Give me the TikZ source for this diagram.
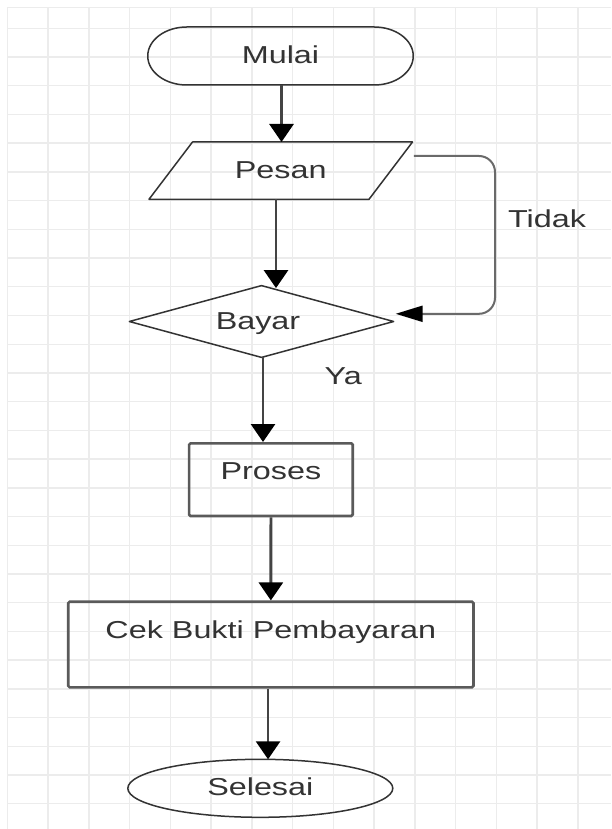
\documentclass[tikz,border=0pt]{standalone}
\usepackage{fontspec}
\setmainfont{Liberation Sans}
\usetikzlibrary{arrows.meta,shapes.geometric}
\definecolor{gridc}{HTML}{ECECEC}
\definecolor{ink}{HTML}{333333}
\definecolor{conn}{HTML}{444444}
\definecolor{boxc}{HTML}{5A5A5A}
\definecolor{loopc}{HTML}{6A6A6A}
\newcommand{\wide}[1]{\scalebox{1.32}[1]{#1}}
\begin{document}
\begin{tikzpicture}[x=1pt,y=-1pt,
  gridline/.style={draw=gridc, line width=1.4pt},
  lbl/.style={font=\fontsize{24.5}{29}\selectfont, text=ink, inner sep=0pt},
  txt/.style={lbl, anchor=base},
  shp/.style={lbl, draw=none, inner sep=0pt, outer sep=0pt},
  thinline/.style={draw=ink, line width=1.5pt, line join=round},
  boxline/.style={lbl, draw=boxc, line width=2.6pt, rounded corners=1.5pt, inner sep=0pt},
  arr/.style={draw=conn, line width=2.8pt, -{Triangle[width=24pt,length=18pt,color=black]}},
  looparr/.style={draw=loopc, line width=2pt, rounded corners=16pt, -{Triangle[width=16pt,length=27pt,color=black]}},
]
\useasboundingbox (0,0) rectangle (611,829);
\fill[white] (0,0) rectangle (611,829);
% grid
\foreach \i in {0,...,14} \draw[gridline] ({7.3+40.75*\i},7.3) -- ({7.3+40.75*\i},829);
\foreach \j in {0,...,27} \draw[gridline] (7.3,{28.3+28.72*\j}) -- (611,{28.3+28.72*\j});
\draw[gridline] (7.3,7.3) -- (611,7.3);

% Mulai (terminal)
\node[shp, minimum width=265.5pt, minimum height=58pt, text height=16pt, text depth=0pt] (m) at (280.5,56) {\wide{Mulai}};
\draw[thinline] ([xshift=39pt]m.north west) -- ([xshift=-39pt]m.north east)
  arc[start angle=90,end angle=-90,x radius=39pt,y radius=29pt]
  -- ([xshift=39pt]m.south west)
  arc[start angle=270,end angle=90,x radius=39pt,y radius=29pt] -- cycle;

% Pesan (input)
\node[shp, minimum width=263.5pt, minimum height=57.3pt, text height=15.3pt, text depth=0pt] (p) at (280.75,170.65) {\wide{Pesan}};
\draw[thinline] ([xshift=43.5pt]p.north west) -- (p.north east) -- ([xshift=-43.5pt]p.south east) -- (p.south west) -- cycle;

% Bayar (decision)
\node[diamond, lbl, thinline, minimum width=264.3pt, minimum height=71.8pt, aspect=3.68, outer sep=0pt, text height=15.6pt, text depth=0pt] (b) at (261.5,321.5) {\wide{Bayar}\hspace*{7pt}};

% Proses
\node[boxline, minimum width=163.7pt, minimum height=72.7pt, text height=0pt, text depth=0.7pt] (pr) at (270.9,479.65) {\wide{Proses}};

% Cek Bukti Pembayaran
\node[boxline, minimum width=405.3pt, minimum height=85.6pt, text height=0pt, text depth=12.4pt] (c) at (270.85,644.5) {\wide{Cek Bukti Pembayaran}};

% Selesai
\node[ellipse, lbl, thinline, minimum width=265pt, minimum height=58pt, outer sep=0pt, text height=13.4pt, text depth=0pt] (s) at (260.3,788.3) {\wide{Selesai}};

% labels
\node[txt] (tidak) at (547,227.7) {\wide{Tidak}};
\node[txt] (ya) at (343.3,384) {\wide{Ya}};

% connectors
\draw[arr] ([xshift=1pt]m.south) -- ([xshift=1pt]m.south |- p.north);
\draw[arr] ([xshift=-4.75pt]p.south) -- ([shift={(14.5pt,-2.5pt)}]b.north);
\draw[arr] ([xshift=1.5pt]b.south) -- ([xshift=1.5pt]b.south |- pr.north);
\draw[arr] (pr.south) -- (c.north);
\draw[arr] ([xshift=-2.8pt]c.south) -- ([xshift=-2.8pt]c.south |- s.north);

\coordinate (ls) at ([shift={(1.4pt,-14pt)}]p.north east);
\coordinate (le) at ([shift={(2pt,7.7pt)}]b.east);
\coordinate (lx) at (495,0);
\draw[looparr] (ls) -- (ls -| lx) -- (le -| lx) -- (le);
\end{tikzpicture}
\end{document}
